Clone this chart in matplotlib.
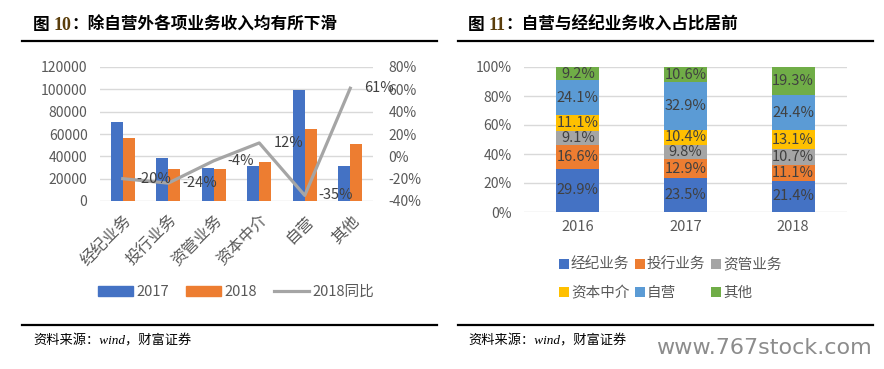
import numpy as np
import matplotlib
matplotlib.use("Agg")
import matplotlib.pyplot as plt
from matplotlib.patches import Patch
from matplotlib.lines import Line2D

plt.rcParams['font.family'] = ['Noto Sans CJK SC', 'DejaVu Sans']

# left chart data
biz = ["经纪业务", "投行业务", "资管业务", "资本中介", "自营", "其他"]
rev_2017 = [70500, 38500, 29500, 31000, 99000, 31500]
rev_2018 = [56500, 29000, 28500, 34500, 64500, 51000]
yoy_2018 = [-0.20, -0.24, -0.04, 0.12, -0.35, 0.61]

# right chart data (shares, %)
years = ["2016", "2017", "2018"]
share_names = ["经纪业务", "投行业务", "资管业务", "资本中介", "自营", "其他"]
share_vals = [
    [29.9, 23.5, 21.4],
    [16.6, 12.9, 11.1],
    [9.1, 9.8, 10.7],
    [11.1, 10.4, 13.1],
    [24.1, 32.9, 24.4],
    [9.2, 10.6, 19.3],
]
share_colors = ["#4472C4", "#ED7D31", "#A5A5A5", "#FFC000", "#5B9BD5", "#70AD47"]

W, H = 884, 369
fig = plt.figure(figsize=(W / 100, H / 100), dpi=100)


def fx(px):
    return px / W


def fy(py):
    return 1 - py / H


tick_col = "#595959"
lab_col = "#404040"
grid_col = "#D9D9D9"

# ---------------- left chart ----------------
ax = fig.add_axes([fx(100), fy(201), fx(373) - fx(100), fy(67) - fy(201)])
x = np.arange(len(biz))
w = 0.26
ax.bar(x - w / 2, rev_2017, w, color="#4472C4", zorder=2)
ax.bar(x + w / 2, rev_2018, w, color="#ED7D31", zorder=2)
ax.set_ylim(0, 120000)
ax.set_xlim(-0.5, len(biz) - 0.5)
ax.set_yticks(np.arange(0, 120001, 20000))
ax.grid(axis="y", color=grid_col, lw=1, zorder=0)
ax.set_xticks(x)
ax.set_xticklabels(biz, rotation=45, ha="right", rotation_mode="anchor",
                   fontsize=11.5, color=tick_col)
ax.tick_params(axis="y", length=0, pad=9, labelsize=10, labelcolor=tick_col)
ax.tick_params(axis="x", length=0, pad=8)
for s in ax.spines.values():
    s.set_visible(False)

ax2 = ax.twinx()
ax2.plot(x, yoy_2018, color="#A5A5A5", lw=2.3, zorder=3)
ax2.set_ylim(-0.4, 0.8)
ax2.set_yticks(np.arange(-0.4, 0.81, 0.2))
ax2.set_yticklabels(["%d%%" % round(v * 100) for v in np.arange(-0.4, 0.81, 0.2)])
ax2.tick_params(axis="y", length=0, pad=11, labelsize=10, labelcolor=tick_col)
for s in ax2.spines.values():
    s.set_visible(False)
for xi, v in zip(x, yoy_2018):
    ax2.annotate("%d%%" % round(v * 100), (xi, v), xytext=(14, 0),
                 textcoords="offset pixels", ha="left", va="center",
                 fontsize=10.5, color=lab_col)

handles = [Patch(color="#4472C4", label="2017"),
           Patch(color="#ED7D31", label="2018"),
           Line2D([], [], color="#A5A5A5", lw=2.3, label="2018同比")]
fig.legend(handles=handles, loc="center", bbox_to_anchor=(fx(236), fy(292)),
           ncol=3, frameon=False, fontsize=10.5, handlelength=2.4,
           handletextpad=0.2, columnspacing=1.2, labelcolor=tick_col)

# ---------------- right chart ----------------
bx = fig.add_axes([fx(524), fy(212), fx(847) - fx(524), fy(67) - fy(212)])
xr = np.arange(len(years))
bottom = np.zeros(len(years))
for name, vals, c in zip(share_names, share_vals, share_colors):
    vals = np.array(vals)
    bx.bar(xr, vals, 0.4, bottom=bottom, color=c, label=name, zorder=2)
    for xi, b, v in zip(xr, bottom, vals):
        bx.text(xi, b + v / 2, "%.1f%%" % v, ha="center", va="center",
                fontsize=10.5, color=lab_col, zorder=3)
    bottom += vals
bx.set_ylim(0, 100)
bx.set_xlim(-0.5, len(years) - 0.5)
bx.set_yticks(np.arange(0, 101, 20))
bx.set_yticklabels(["%d%%" % v for v in range(0, 101, 20)])
bx.grid(axis="y", color=grid_col, lw=1, zorder=0)
bx.set_xticks(xr)
bx.set_xticklabels(years)
bx.tick_params(axis="y", length=0, pad=9, labelsize=10, labelcolor=tick_col)
bx.tick_params(axis="x", length=0, pad=6, labelsize=10.5, labelcolor=tick_col)
for s in bx.spines.values():
    s.set_visible(False)

h, l = bx.get_legend_handles_labels()
order = [0, 3, 1, 4, 2, 5]  # fill rows first
fig.legend([h[i] for i in order], [l[i] for i in order], loc="center",
           bbox_to_anchor=(fx(670), fy(279)), ncol=3, frameon=False,
           fontsize=10.5, handlelength=0.7, handleheight=0.7,
           handletextpad=0.15, columnspacing=0.35, labelspacing=0.95,
           labelcolor=tick_col)

# ---------------- titles, rules, sources ----------------
renderer = fig.canvas.get_renderer()


def title(x0, num, rest):
    # pieces written one after another, each starting where the last ended
    parts = [("图 ", {}), (num, {"family": "Liberation Serif", "color": "#5a3d0a",
                                 "fontsize": 13}), (rest, {})]
    xpos = x0
    for txt, kw in parts:
        opts = dict(fontsize=12, fontweight="bold", va="center")
        opts.update(kw)
        t = fig.text(fx(xpos), fy(25), txt, **opts)
        xpos += t.get_window_extent(renderer).width


title(33, "10", "：除自营外各项业务收入均有所下滑")
title(468, "11", "：自营与经纪业务收入占比居前")

for x0, x1 in [(22, 437), (458, 873)]:
    for yy in (40.5, 325):
        fig.add_artist(Line2D([fx(x0), fx(x1)], [fy(yy), fy(yy)],
                              color="black", lw=1.6))

for x0 in (33, 468):
    fig.text(fx(x0), fy(341), "资料来源：wind，财富证券", fontsize=9.5,
             style="italic", family=["Liberation Serif", "Noto Sans CJK SC"],
             va="center")

fig.text(fx(872), fy(348), "www.767stock.com", fontsize=16, color="#8c8c8c",
         ha="right", va="center", family="DejaVu Sans")

fig.savefig("out.png", dpi=100)
